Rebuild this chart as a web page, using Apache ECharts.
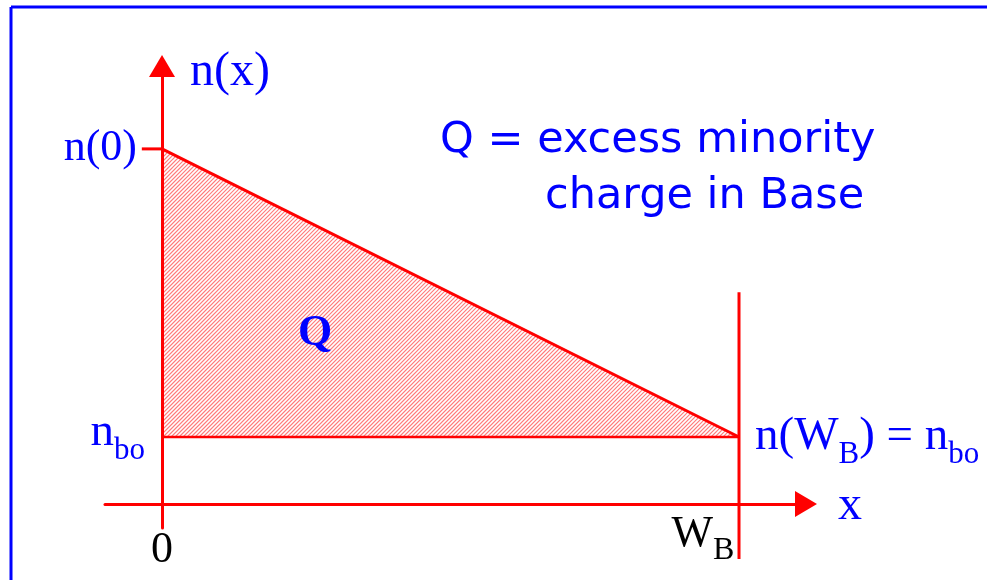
<!DOCTYPE html>
<html><head><meta charset="utf-8">
<script src="https://cdn.jsdelivr.net/npm/echarts@6/dist/echarts.min.js"></script>
<style>html,body{margin:0;padding:0;background:#fff}#c{width:987px;height:580px}</style>
</head><body><div id="c"></div>
<script>
// ---- data ----
const xPositions = [0, 1];          // x = 0 and x = W_B
const profileValues = [5.3, 1];     // n(0) at x=0, n_bo at x=W_B
const nbo = 1;                      // equilibrium minority concentration n_bo
const wbLineSpan = [3.16, -0.82];   // vertical boundary line at W_B (top, bottom)
const n0TickStart = -0.035;         // start of the short n(0) tick
const xTickLabels = ['0', 'W_B'];
const yTickLabels = ['n(0)', 'n_bo'];

const RED = '#ff0000', BLUE = '#0000ff';
const SERIF = '"Liberation Serif","Times New Roman",serif';
const HATCH_STEP = 4;

const subRich = {
  m: { fontFamily: SERIF, fontSize: 47, lineHeight: 47, color: BLUE, verticalAlign: 'top' },
  s: { fontFamily: SERIF, fontSize: 31, lineHeight: 31, color: BLUE, verticalAlign: 'top', padding: [26, 0, 0, 0] },
  km: { fontFamily: SERIF, fontSize: 44, lineHeight: 44, color: '#000', verticalAlign: 'top' },
  ks: { fontFamily: SERIF, fontSize: 32, lineHeight: 32, color: '#000', verticalAlign: 'top', padding: [23, 0, 0, 0] }
};

function renderHatch(params, api) {
  const p0 = api.coord([api.value(0), api.value(1)]);
  const p1 = api.coord([api.value(0), api.value(4)]);
  const p2 = api.coord([api.value(2), api.value(3)]);
  const pts = [p0, p1, p2];
  const us = pts.map(p => p[0] + p[1]);
  const cMin = Math.min.apply(null, us), cMax = Math.max.apply(null, us);
  const children = [];
  for (let c = Math.ceil(cMin / HATCH_STEP) * HATCH_STEP; c <= cMax; c += HATCH_STEP) {
    const hits = [];
    for (let i = 0; i < 3; i++) {
      const a = pts[i], b = pts[(i + 1) % 3];
      const ua = a[0] + a[1], ub = b[0] + b[1];
      if (ua === ub) continue;
      if ((ua - c) * (ub - c) <= 0) {
        const t = (c - ua) / (ub - ua);
        hits.push([a[0] + t * (b[0] - a[0]), a[1] + t * (b[1] - a[1])]);
      }
    }
    if (hits.length < 2) continue;
    hits.sort((m, n) => m[0] - n[0]);
    const s = hits[0], e = hits[hits.length - 1];
    if (Math.abs(e[0] - s[0]) < 0.5) continue;
    children.push({
      type: 'line',
      shape: { x1: s[0], y1: s[1], x2: e[0], y2: e[1] },
      style: { stroke: '#ff7a7a', lineWidth: 1.1 }
    });
  }
  return { type: 'group', children: children };
}

const chart = echarts.init(document.getElementById('c'), null, { renderer: 'canvas' });
const option = {
  animation: false,
  backgroundColor: '#fff',
  aria: { enabled: false, decal: { show: false } },
  grid: { left: 105, right: 181, top: 66, bottom: 52 },
  xAxis: {
    type: 'value', min: -0.0988, max: 1.1161, z: 4,
    axisLine: { onZero: true, lineStyle: { color: RED, width: 3 }, symbol: ['none', 'triangle'], symbolSize: [26, 22] },
    axisTick: { show: false }, axisLabel: { show: false }, splitLine: { show: false }
  },
  yAxis: {
    type: 'value', min: -0.3582, max: 6.5373, z: 4,
    axisLine: { onZero: true, lineStyle: { color: RED, width: 3 }, symbol: ['none', 'triangle'], symbolSize: [26, 22] },
    axisTick: { show: false }, axisLabel: { show: false }, splitLine: { show: false }
  },
  series: [
    { // hatched area Q
      type: 'custom', silent: true, z: 1, clip: false,
      renderItem: renderHatch,
      data: [[xPositions[0], profileValues[0], xPositions[1], profileValues[1], nbo]],
      encode: { x: [0, 2], y: [1, 3, 4] }
    },
    { // nbo baseline
      type: 'line', symbol: 'none', silent: true,
      data: [[xPositions[0], nbo], [xPositions[1], nbo]],
      lineStyle: { color: RED, width: 2.5 }, z: 3
    },
    { // excess charge profile
      type: 'line', symbol: 'none', silent: true,
      data: xPositions.map((x, i) => [x, profileValues[i]]),
      lineStyle: { color: RED, width: 3 },
      z: 3
    },
    { // vertical line at W_B
      type: 'line', symbol: 'none', silent: true, clip: false,
      data: [[xPositions[1], wbLineSpan[0]], [xPositions[1], wbLineSpan[1]]],
      lineStyle: { color: RED, width: 3 }, z: 3
    },
    { // n(0) tick
      type: 'line', symbol: 'none', silent: true, clip: false,
      data: [[n0TickStart, profileValues[0]], [xPositions[0], profileValues[0]]],
      lineStyle: { color: RED, width: 3 }, z: 3
    },
    { // labels
      type: 'scatter', symbolSize: 0, silent: true, clip: false, z: 5,
      itemStyle: { opacity: 1 },
      data: [
        { value: [xPositions[0], profileValues[0]], label: { show: true, position: 'left', distance: 25, formatter: yTickLabels[0], fontFamily: SERIF, fontSize: 44, color: BLUE } },
        { value: [xPositions[0], nbo], label: { show: true, position: 'left', distance: 17, offset: [0, -4], formatter: '{m|n}{s|bo}', rich: subRich } },
        { value: [xPositions[1], profileValues[1]], label: { show: true, position: 'right', distance: 16, offset: [0, 0], formatter: '{m|n(W}{s|B}{m|) = n}{s|bo}', rich: subRich } },
        { value: [xPositions[0], 0], label: { show: true, position: 'bottom', distance: 24, formatter: xTickLabels[0], fontFamily: SERIF, fontSize: 44, color: '#000' } },
        { value: [xPositions[1], 0], label: { show: true, position: 'bottom', distance: 8, offset: [-36, 0], formatter: '{km|W}{ks|B}', rich: subRich } }
      ]
    }
  ],
  graphic: [
    { type: 'line', z: 10, shape: { x1: 11, y1: 7, x2: 1000, y2: 7 }, style: { stroke: BLUE, lineWidth: 3 } },
    { type: 'line', z: 10, shape: { x1: 11, y1: 7, x2: 11, y2: 600 }, style: { stroke: BLUE, lineWidth: 3 } },
    { type: 'text', z: 10, left: 190, top: 48, style: { text: 'n(x)', font: '48px ' + SERIF, fill: BLUE } },
    { type: 'text', z: 10, left: 838, top: 482, style: { text: 'x', font: '48px ' + SERIF, fill: BLUE } },
    { type: 'text', z: 10, left: 298, top: 312, style: { text: 'Q', font: 'bold 44px ' + SERIF, fill: BLUE } },
    { type: 'text', z: 10, left: 440, top: 119, style: { text: 'Q = excess minority', font: '43px "Comic Sans MS","DejaVu Sans",sans-serif', fill: BLUE } },
    { type: 'text', z: 10, left: 545, top: 175, style: { text: 'charge in Base', font: '43px "Comic Sans MS","DejaVu Sans",sans-serif', fill: BLUE } }
  ]
};
chart.setOption(option);
</script></body></html>
